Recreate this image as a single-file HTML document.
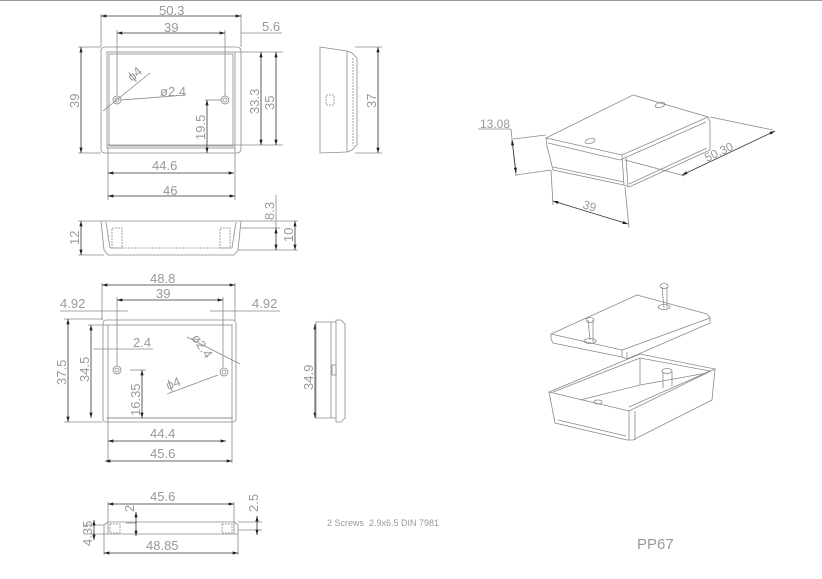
<!DOCTYPE html>
<html><head><meta charset="utf-8"><style>
html,body{margin:0;padding:0;background:#fff;}
svg{display:block;}
text{font-family:"Liberation Sans",sans-serif;fill:#999;}
</style></head><body>
<svg width="822" height="579" viewBox="0 0 822 579" xmlns="http://www.w3.org/2000/svg">
<defs>
<marker id="a" viewBox="0 0 10 6" refX="10" refY="3" markerWidth="8" markerHeight="4" orient="auto-start-reverse"><path d="M0,0L10,3L0,6z" fill="#222"/></marker>
</defs>
<line x1="0" y1="0.5" x2="822" y2="0.5" stroke="#999"/>
<g stroke="#8a8a8a" stroke-width="0.8" fill="none">
<rect x="101" y="47" width="140" height="106" rx="4"/>
<rect x="107" y="52" width="128" height="96"/>
<rect x="109" y="54" width="124" height="92"/>
<line x1="107" y1="145" x2="235" y2="145"/>
<circle cx="117" cy="100" r="4"/><circle cx="117" cy="100" r="2"/>
<circle cx="225" cy="100" r="4"/><circle cx="225" cy="100" r="2"/>
<line x1="101" y1="14" x2="101" y2="47"/><line x1="241" y1="14" x2="241" y2="47"/>
<line x1="117" y1="30" x2="117" y2="96"/><line x1="225" y1="30" x2="225" y2="96"/>
<line x1="241" y1="33" x2="282" y2="33"/>
<line x1="235" y1="52" x2="283" y2="52"/><line x1="235" y1="145" x2="283" y2="145"/>
<line x1="78" y1="47" x2="101" y2="47"/><line x1="78" y1="153" x2="101" y2="153"/>
<line x1="205" y1="100" x2="221" y2="100"/>
<line x1="108" y1="148" x2="108" y2="200"/><line x1="235" y1="148" x2="235" y2="200"/>
<line x1="103" y1="111" x2="150" y2="73"/>
<line x1="121" y1="100" x2="186" y2="95"/>
</g>
<g stroke="#333" stroke-width="0.8" fill="none" marker-start="url(#a)" marker-end="url(#a)">
<line x1="101" y1="16" x2="241" y2="16"/>
<line x1="117" y1="33" x2="225" y2="33"/>
<line x1="81" y1="47" x2="81" y2="153"/>
<line x1="261" y1="52" x2="261" y2="145"/>
<line x1="276" y1="52" x2="276" y2="145"/>
<line x1="207" y1="100" x2="207" y2="153"/>
<line x1="108" y1="173" x2="234" y2="173"/>
<line x1="108" y1="196" x2="235" y2="196"/>
<line x1="378" y1="47" x2="378" y2="153"/>
</g>
<g font-size="13">
<text x="159" y="15">50.3</text>
<text x="164" y="32">39</text>
<text x="262" y="31">5.6</text>
<text x="152" y="170">44.6</text>
<text x="163" y="195">46</text>
<text transform="translate(79,108) rotate(-90)">39</text>
<text transform="translate(259,114) rotate(-90)">33.3</text>
<text transform="translate(274,110) rotate(-90)">35</text>
<text transform="translate(205,140) rotate(-90)">19.5</text>
<text transform="translate(376,108) rotate(-90)">37</text>
<text transform="translate(132,82) rotate(-40)">ɸ4</text>
<text x="160" y="96">ø2.4</text>
</g>
<g stroke="#8a8a8a" stroke-width="0.8" fill="none">
<path d="M320,47 L347,51 L352,53 L357,58 L357,145 L352,150 L347,152 L320,153 Z"/>
<line x1="347" y1="51" x2="347" y2="152"/>
<line x1="353" y1="58" x2="353" y2="146" stroke-dasharray="2,1"/>
<line x1="355" y1="47" x2="382" y2="47"/><line x1="355" y1="153" x2="382" y2="153"/>
<rect x="326" y="95" width="8" height="10" stroke-dasharray="2,1"/>
<path d="M101,221 L241,221 L238,250 L234,255 L108,255 L104,250 Z"/>
<line x1="106" y1="222" x2="110" y2="248"/><line x1="236" y1="222" x2="232" y2="248"/>
<line x1="110" y1="248" x2="232" y2="248" stroke-dasharray="2,1"/>
<rect x="112" y="228" width="10" height="20" stroke-dasharray="2,1"/>
<rect x="220" y="228" width="10" height="20" stroke-dasharray="2,1"/>
<line x1="78" y1="221" x2="101" y2="221"/><line x1="78" y1="255" x2="104" y2="255"/>
<line x1="241" y1="221" x2="298" y2="221"/><line x1="241" y1="228" x2="280" y2="228"/>
<line x1="238" y1="250" x2="298" y2="250"/>
<line x1="276" y1="195" x2="276" y2="228"/>
</g>
<g stroke="#333" stroke-width="0.8" fill="none" marker-start="url(#a)" marker-end="url(#a)">
<line x1="81" y1="221" x2="81" y2="255"/>
<line x1="276" y1="228" x2="276" y2="250"/>
<line x1="295" y1="221" x2="295" y2="250"/>
</g>
<g font-size="13">
<text transform="translate(79,245) rotate(-90)">12</text>
<text transform="translate(274,220) rotate(-90)">8.3</text>
<text transform="translate(293,242) rotate(-90)">10</text>
</g>

<g stroke="#8a8a8a" stroke-width="0.8" fill="none">
<rect x="103" y="320" width="133" height="102" rx="3"/>
<rect x="108" y="325" width="124" height="93"/>
<line x1="106" y1="418" x2="232" y2="418"/>
<circle cx="117" cy="370" r="4"/><circle cx="117" cy="370" r="2"/>
<circle cx="224" cy="372" r="4"/><circle cx="224" cy="372" r="2"/>
<line x1="102" y1="283" x2="102" y2="320"/><line x1="235" y1="283" x2="235" y2="320"/>
<line x1="117" y1="297" x2="117" y2="366"/><line x1="223" y1="297" x2="223" y2="368"/>
<line x1="60" y1="311" x2="128" y2="311"/><line x1="210" y1="311" x2="280" y2="311"/>
<line x1="64" y1="319" x2="103" y2="319"/><line x1="64" y1="422" x2="103" y2="422"/>
<line x1="88" y1="325" x2="108" y2="325"/>
<line x1="93" y1="349" x2="153" y2="349"/>
<line x1="130" y1="370" x2="146" y2="370"/>
<line x1="108" y1="418" x2="108" y2="463"/><line x1="232" y1="418" x2="232" y2="463"/>
<line x1="187" y1="337" x2="240" y2="364"/>
<line x1="167" y1="394" x2="218" y2="375"/>
</g>
<g stroke="#333" stroke-width="0.8" fill="none" marker-start="url(#a)" marker-end="url(#a)">
<line x1="102" y1="285" x2="235" y2="285"/>
<line x1="117" y1="300" x2="223" y2="300"/>
<line x1="68" y1="319" x2="68" y2="422"/>
<line x1="91" y1="325" x2="91" y2="418"/>
<line x1="142" y1="370" x2="142" y2="418"/>
<line x1="108" y1="441" x2="226" y2="441"/>
<line x1="105" y1="461" x2="232" y2="461"/>
<line x1="315" y1="324" x2="315" y2="418"/>
</g>
<g font-size="13">
<text x="150" y="283">48.8</text>
<text x="156" y="298">39</text>
<text x="60" y="308">4.92</text>
<text x="252" y="308">4.92</text>
<text x="133" y="347">2.4</text>
<text x="150" y="438">44.4</text>
<text x="150" y="458">45.6</text>
<text transform="translate(66,385) rotate(-90)">37.5</text>
<text transform="translate(89,382) rotate(-90)">34.5</text>
<text transform="translate(140,416) rotate(-90)">16.35</text>
<text transform="translate(313,390) rotate(-90)">34.9</text>
<text transform="translate(191,338) rotate(55)">ø2.4</text>
<text transform="translate(168,390) rotate(-20)">ɸ4</text>
</g>
<g stroke="#8a8a8a" stroke-width="0.8" fill="none">
<path d="M316,322 L336,322 L336,320 L341,320 L345,324 L345,418 L341,422 L336,422 L336,418 L316,418 Z"/>
<line x1="331" y1="322" x2="331" y2="418"/>
<line x1="336" y1="322" x2="336" y2="418"/>
<rect x="332" y="365" width="4" height="10"/>
<path d="M104,525 L108,522 L234,522 L238,525 L238,534 L104,534 Z"/>
<line x1="108" y1="522" x2="108" y2="534"/><line x1="234" y1="522" x2="234" y2="534"/>
<rect x="110" y="524" width="10" height="9" stroke-dasharray="2,1"/>
<rect x="222" y="524" width="10" height="9" stroke-dasharray="2,1"/>
<line x1="108" y1="502" x2="108" y2="522"/><line x1="234" y1="502" x2="234" y2="522"/>
<line x1="104" y1="534" x2="104" y2="555"/><line x1="238" y1="534" x2="238" y2="555"/>
<line x1="84" y1="525" x2="104" y2="525"/><line x1="84" y1="534" x2="104" y2="534"/>
<line x1="238" y1="522" x2="262" y2="522"/><line x1="238" y1="530" x2="262" y2="530"/>
<line x1="126" y1="523" x2="136" y2="523"/>
</g>
<g stroke="#333" stroke-width="0.8" fill="none" marker-start="url(#a)" marker-end="url(#a)">
<line x1="108" y1="504" x2="234" y2="504"/>
<line x1="104" y1="553" x2="238" y2="553"/>
<line x1="94" y1="520" x2="94" y2="540"/>
<line x1="136" y1="512" x2="136" y2="536"/>
<line x1="257" y1="516" x2="257" y2="535"/>
</g>
<g font-size="13">
<text x="150" y="501">45.6</text>
<text x="146" y="550">48.85</text>
<text transform="translate(92,546) rotate(-90)">4.35</text>
<text transform="translate(134,512) rotate(-90)">2</text>
<text transform="translate(258,512) rotate(-90)">2.5</text>
</g>
<text x="327" y="526" font-size="9">2 Screws&#160;&#160;2.9x6.5 DIN 7981</text>
<text x="637" y="549" font-size="15" fill="#999">PP67</text>

<g stroke="#8a8a8a" stroke-width="0.8" fill="none">
<path d="M633,95 L708,117 L710,122 L710,150 L629,187 L624,185 L553,170 L547,146 L546,138 Z"/>
<path d="M546,138 L622,155 L708,117"/>
<path d="M548,143 L620,160 L706,122"/>
<line x1="622" y1="155" x2="624" y2="185"/>
<line x1="626" y1="158" x2="628" y2="186"/>
<line x1="553" y1="167" x2="624" y2="182"/>
<line x1="629" y1="184" x2="707" y2="148"/>
<ellipse cx="660" cy="105" rx="5" ry="2.5" transform="rotate(-15 660 105)"/>
<ellipse cx="590" cy="141" rx="5" ry="2.5" transform="rotate(-15 590 141)"/>
<line x1="478" y1="129" x2="511" y2="129"/>
<line x1="511" y1="129" x2="516" y2="176"/>
<line x1="513" y1="139" x2="546" y2="135"/><line x1="516" y1="175" x2="551" y2="170"/>
<line x1="551" y1="170" x2="553" y2="205"/><line x1="625" y1="187" x2="629" y2="228"/>
<line x1="710" y1="117" x2="773" y2="130"/><line x1="625" y1="160" x2="685" y2="176"/>
</g>
<g stroke="#333" stroke-width="0.8" fill="none" marker-start="url(#a)" marker-end="url(#a)">
<line x1="512" y1="140" x2="516" y2="173"/>
<line x1="553" y1="201" x2="628" y2="224"/>
<line x1="682" y1="175" x2="775" y2="131"/>
</g>
<text x="480" y="128" font-size="12">13.08</text>
<text transform="translate(582,208) rotate(17)" font-size="12">39</text>
<text transform="translate(707,162) rotate(-25)" font-size="12">50.30</text>

<g stroke="#8a8a8a" stroke-width="0.8" fill="none">
<path d="M637,295 L707,314 L710,318 L710,323 L627,359 L622,357 L553,343 L551,339 L551,334 Z"/>
<path d="M551,334 L622,350 L710,318"/>
<line x1="622" y1="350" x2="622" y2="357"/>
<line x1="627" y1="352" x2="627" y2="359"/>
<path d="M593,320 L593,342 M588,320 L590,340" />
<ellipse cx="590" cy="320" rx="4" ry="2.5"/>
<ellipse cx="590" cy="341" rx="6" ry="2.5"/>
<path d="M662,287 L664,308 M667,287 L667,308"/>
<ellipse cx="664" cy="286" rx="4" ry="2.5"/>
<ellipse cx="664" cy="307" rx="6" ry="2.5"/>
<path d="M549,392 L640,354 L715,369 L629,411 Z"/>
<path d="M553,392 L640,358 L710,371 L629,407"/>
<path d="M549,392 L555,423 L627,440 L633,440 L712,400 L715,369"/>
<line x1="629" y1="411" x2="629" y2="440"/>
<line x1="635" y1="411" x2="635" y2="440"/>
<line x1="640" y1="358" x2="640" y2="385"/>
<line x1="640" y1="385" x2="580" y2="400"/>
<line x1="640" y1="385" x2="707" y2="373"/>
<path d="M663,372 L663,388 M672,372 L672,386"/>
<ellipse cx="667" cy="371" rx="5" ry="2.5"/>
<ellipse cx="598" cy="402" rx="4" ry="2"/>
<line x1="558" y1="420" x2="626" y2="436"/>
</g>
</svg>
</body></html>
